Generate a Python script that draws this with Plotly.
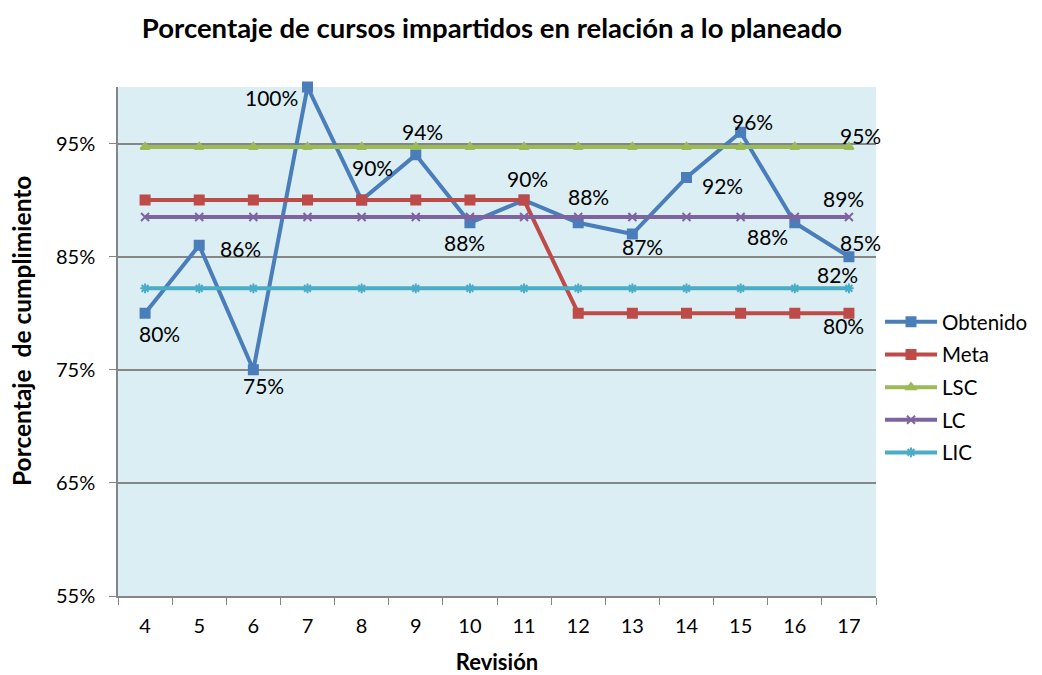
import math
import plotly.graph_objects as go

# data
revisiones = ["4", "5", "6", "7", "8", "9", "10", "11", "12", "13", "14", "15", "16", "17"]
obtenido = [80, 86, 75, 100, 90, 94, 88, 90, 88, 87, 92, 96, 88, 85]
meta = [90, 90, 90, 90, 90, 90, 90, 90, 80, 80, 80, 80, 80, 80]
lsc = [94.7] * 14
lc = [88.5] * 14
lic = [82.2] * 14
y_ticks = [55, 65, 75, 85, 95]

FONT = "Lato, Open Sans, sans-serif"
COLOURS = {
    "Obtenido": "#4A7EBB",
    "Meta": "#BE4B48",
    "LSC": "#9BBB59",
    "LC": "#7F63A1",
    "LIC": "#4BACC6",
}
# page body has an 8px margin, so everything is pulled back by 8px
OFF = 8
W, H = 1042, 675

# label offsets (px) for the Obtenido data labels
obt_dx = [14, 41, 10, -36, 11, 7, -5, 3, 10, 10, 36, 12, -27, 12]
obt_dy = [20, 3, 16, 10, -33, -23, 20, -22, -26, 12, 8, -11, 14, -14]


def pct(v):
    return f"{math.floor(v + 0.5)}%"


fig = go.Figure()

series = [
    ("Obtenido", obtenido, "square", 9),
    ("Meta", meta, "square", 9),
    ("LSC", lsc, "triangle-up", 8),
    ("LC", lc, "x-thin", 8),
    ("LIC", lic, "asterisk", 8),
]
for name, vals, sym, size in series:
    fig.add_trace(go.Scatter(
        x=revisiones, y=vals, name=name, legendgroup=name,
        mode="lines+markers",
        line=dict(color=COLOURS[name], width=4),
        marker=dict(symbol=sym, size=size, color=COLOURS[name],
                    line=dict(color=COLOURS[name], width=2)),
        cliponaxis=False,
    ))

LABEL_FONT = dict(color="#000000", size=21, family=FONT)
# category axis: annotations are placed by category index
for i, (y, dx, dy) in enumerate(zip(obtenido, obt_dx, obt_dy)):
    fig.add_annotation(x=i, y=y, text=pct(y), showarrow=False,
                       xshift=dx, yshift=-dy, font=LABEL_FONT)

# end-of-line labels for the reference series
last = len(revisiones) - 1
for vals, dx, dy in [(meta, -5, 12), (lsc, 12, -11), (lc, -5, -19), (lic, -11, -14)]:
    fig.add_annotation(x=last, y=vals[-1], text=pct(vals[-1]), showarrow=False,
                       xshift=dx, yshift=-dy, font=LABEL_FONT)

# y axis title as a rotated annotation so it can sit close to the page edge
fig.add_annotation(
    xref="paper", yref="paper", x=-(118 - 21) / 758, y=(596 - 331) / 509,
    xanchor="center", yanchor="middle",
    text="<b>Porcentaje&nbsp; de cumplimiento</b>", textangle=-90, showarrow=False,
    font=dict(size=24.5, family=FONT, color="#000000"),
)

fig.update_layout(
    width=W, height=H,
    paper_bgcolor="#FFFFFF",
    plot_bgcolor="#DBEEF4",
    font=dict(family=FONT, color="#000000", size=20),
    margin=dict(l=118 - OFF, r=166 + OFF, t=87 - OFF, b=79 + OFF, autoexpand=False),
    title=dict(
        text="<b>Porcentaje de cursos impartidos en relación a lo planeado</b>",
        x=(492 - OFF) / W, xanchor="center", y=1 - (28 - OFF) / H, yanchor="middle",
        font=dict(size=27.5, family=FONT),
    ),
    legend=dict(
        xref="container", yref="container",
        x=(880 - OFF) / W, xanchor="left", y=1 - (302 - OFF) / H, yanchor="top",
        bgcolor="rgba(0,0,0,0)", font=dict(size=20.5, family=FONT),
        itemwidth=52, tracegroupgap=3,
    ),
    showlegend=True,
)
fig.update_xaxes(
    type="category", range=[-0.5, 13.5],
    showline=True, linecolor="#868686", linewidth=1.5,
    ticks="outside", tickson="boundaries", ticklen=7, tickcolor="#868686",
    ticklabelstandoff=11,
    showgrid=False,
    title=dict(text="<b>Revisión</b>", font=dict(size=22, family=FONT), standoff=19),
)
fig.update_yaxes(
    range=[55, 100], tickvals=y_ticks, ticktext=[f"{v}%" for v in y_ticks],
    showline=True, linecolor="#868686", linewidth=1.5,
    ticks="outside", ticklen=7, tickcolor="#868686",
    ticklabelstandoff=10,
    showgrid=True, gridcolor="#868686", gridwidth=1.5, zeroline=False,
)

fig.write_html("out.html")
